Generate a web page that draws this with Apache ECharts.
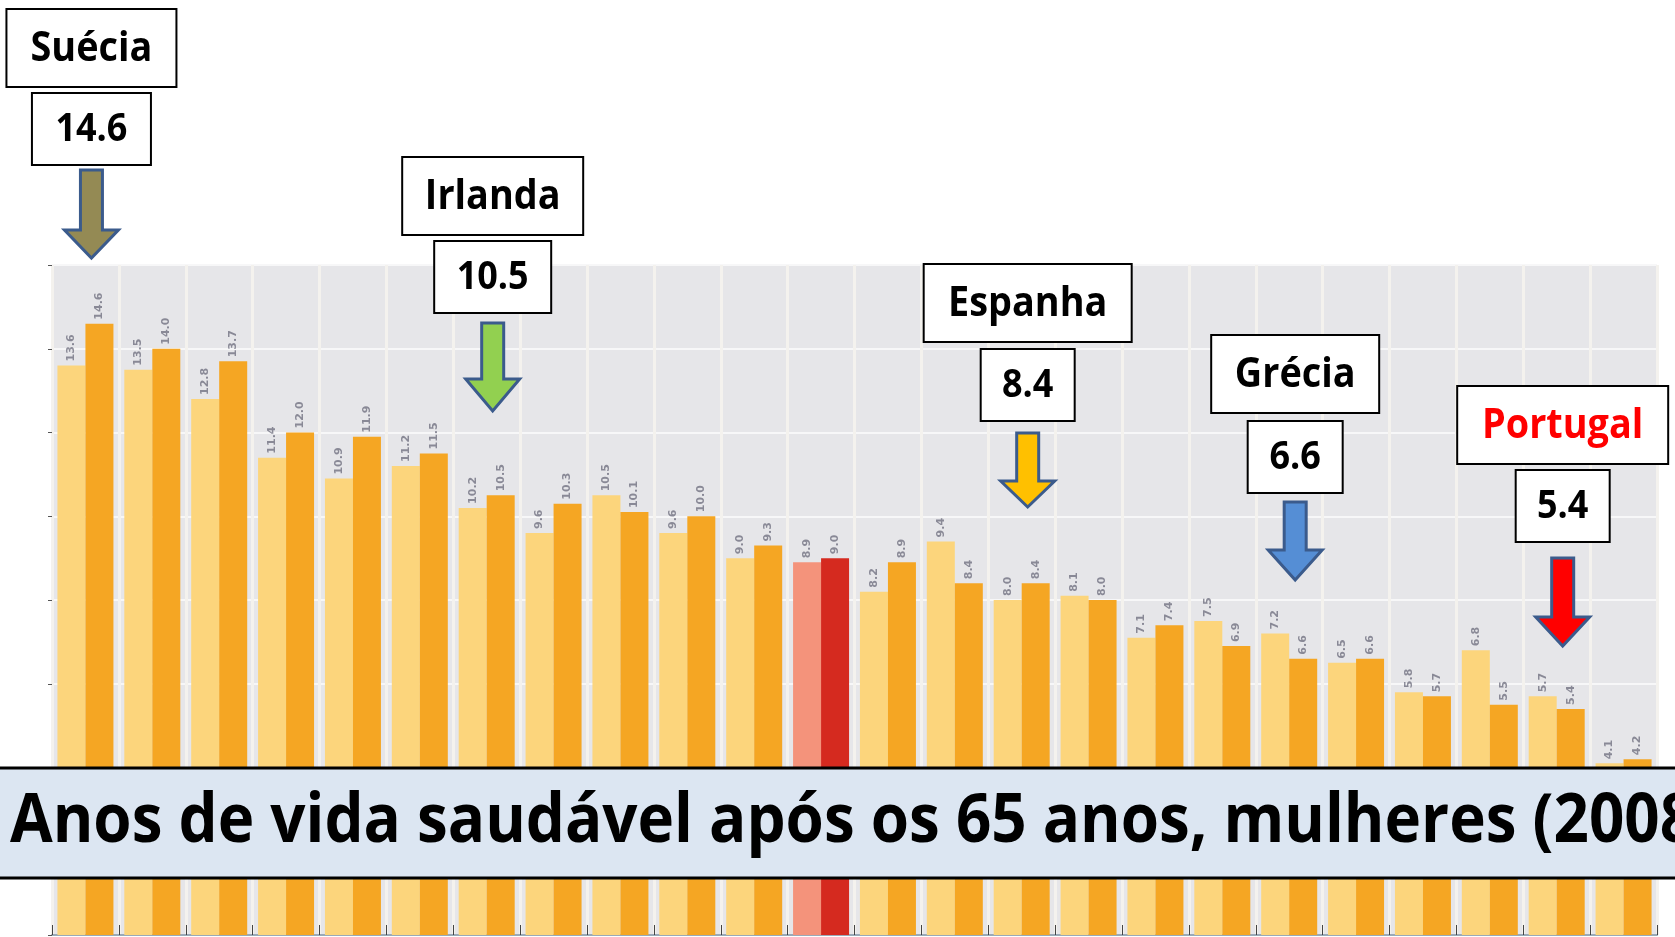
<!DOCTYPE html>
<html>
<head>
<meta charset="utf-8">
<script src="https://cdn.jsdelivr.net/npm/echarts@6/dist/echarts.min.js"></script>
<style>
  html, body { margin: 0; padding: 0; background: #fff; }
  #chart { width: 1675px; height: 937px; }
</style>
</head>
<body>
<div id="chart"></div>
<script>
// países (só alguns são identificados na imagem)
const countries = ['Suécia', 'P2', 'P3', 'P4', 'P5', 'P6', 'Irlanda', 'P8', 'P9', 'P10', 'P11', 'UE',
  'P13', 'P14', 'Espanha', 'P16', 'P17', 'P18', 'Grécia', 'P20', 'P21', 'P22', 'Portugal', 'P24'];
// anos de vida saudável após os 65, mulheres
const serieA = [13.6, 13.5, 12.8, 11.4, 10.9, 11.2, 10.2, 9.6, 10.5, 9.6, 9.0, 8.9,
  8.2, 9.4, 8.0, 8.1, 7.1, 7.5, 7.2, 6.5, 5.8, 6.8, 5.7, 4.1];
const serieB = [14.6, 14.0, 13.7, 12.0, 11.9, 11.5, 10.5, 10.3, 10.1, 10.0, 9.3, 9.0,
  8.9, 8.4, 8.4, 8.0, 7.4, 6.9, 6.6, 6.6, 5.7, 5.5, 5.4, 4.2];
const yTicks = [0, 16, 2];
const highlight = 'UE';
const callouts = ['Suécia', 'Irlanda', 'Espanha', 'Grécia', 'Portugal'];
const title = 'Anos de vida saudável após os 65 anos, mulheres (2008)';

// caixas e setas (posições do diapositivo)
const boxLayout = [
  { w: 170, top: 9,   vw: 119, vtop: 93,  a0: 170, a1: 230, a2: 258, fill: '#948A54', nameColor: '#000' },
  { w: 181, top: 157, vw: 117, vtop: 241, a0: 323, a1: 379, a2: 411, fill: '#92D050', nameColor: '#000' },
  { w: 208, top: 264, vw: 94,  vtop: 349, a0: 433, a1: 481, a2: 507, fill: '#FFC000', nameColor: '#000' },
  { w: 168, top: 335, vw: 95,  vtop: 421, a0: 502, a1: 550, a2: 580, fill: '#558ED5', nameColor: '#000' },
  { w: 211, top: 386, vw: 94,  vtop: 470, a0: 558, a1: 617, a2: 646, fill: '#FF0000', nameColor: '#FF0000' }
];

const chart = echarts.init(document.getElementById('chart'));

const colA = '#FCD57C', colB = '#F5A623';
const colAhi = '#F4937B', colBhi = '#D52A1F';

function items(values, normal, hi) {
  return values.map((v, i) => countries[i] === highlight
    ? { value: v, itemStyle: { color: hi } }
    : { value: v, itemStyle: { color: normal } });
}

const labelStyle = {
  show: true,
  position: 'top',
  rotate: 90,
  align: 'left',
  verticalAlign: 'middle',
  distance: 4,
  fontSize: 11,
  fontWeight: 'bold',
  fontFamily: 'DejaVu Sans',
  color: 'rgba(75,75,95,0.6)',
  formatter: p => p.value.toFixed(1)
};

chart.setOption({
  animation: false,
  backgroundColor: '#ffffff',
  grid: {
    left: 52, right: 18, top: 265, bottom: 2,
    show: true, backgroundColor: '#E6E6E9', borderWidth: 0
  },
  xAxis: {
    type: 'category',
    data: countries,
    axisLine: { lineStyle: { color: '#9AAAB8', width: 2 } },
    axisTick: { show: true, inside: true, length: 10, lineStyle: { color: '#444' } },
    axisLabel: { show: false },
    splitLine: { show: true, lineStyle: { color: '#F4F2EE', width: 3 } }
  },
  yAxis: {
    type: 'value',
    min: yTicks[0], max: yTicks[1], interval: yTicks[2],
    axisLine: { show: false },
    axisTick: { show: true, length: 4, lineStyle: { color: '#555' } },
    axisLabel: { show: false },
    splitLine: { lineStyle: { color: '#F7F7F8', width: 2 } }
  },
  series: [
    { name: 'A', type: 'bar', data: items(serieA, colA, colAhi), barWidth: 28, barGap: '0%', label: labelStyle },
    { name: 'B', type: 'bar', data: items(serieB, colB, colBhi), barWidth: 28, barGap: '0%', label: labelStyle }
  ]
});

const graphic = [];
callouts.forEach((name, k) => {
  const L = boxLayout[k];
  const idx = countries.indexOf(name);
  const cx = chart.convertToPixel({ xAxisIndex: 0 }, name) + 6;
  const val = serieB[idx].toFixed(1);
  graphic.push({
    type: 'rect', z: 100,
    shape: { x: cx - L.w / 2, y: L.top, width: L.w, height: 78 },
    style: { fill: '#fff', stroke: '#000', lineWidth: 2 }
  });
  graphic.push({
    type: 'text', z: 101, x: cx, y: L.top + 40, scaleX: 0.9,
    style: { text: name, x: 0, y: 0, align: 'center', verticalAlign: 'middle',
      font: 'bold 42px "Open Sans"', fill: L.nameColor }
  });
  graphic.push({
    type: 'rect', z: 100,
    shape: { x: cx - L.vw / 2, y: L.vtop, width: L.vw, height: 72 },
    style: { fill: '#fff', stroke: '#000', lineWidth: 2 }
  });
  graphic.push({
    type: 'text', z: 101, x: cx, y: L.vtop + 37, scaleX: 0.9,
    style: { text: val, x: 0, y: 0, align: 'center', verticalAlign: 'middle',
      font: 'bold 40px "Open Sans"', fill: '#000' }
  });
  const sw = 11, hw = 27;
  graphic.push({
    type: 'polygon', z: 100,
    shape: { points: [[cx - sw, L.a0], [cx + sw, L.a0], [cx + sw, L.a1], [cx + hw, L.a1],
      [cx, L.a2], [cx - hw, L.a1], [cx - sw, L.a1]] },
    style: { fill: L.fill, stroke: '#3B5B8C', lineWidth: 3, lineJoin: 'miter' }
  });
});

graphic.push({
  type: 'rect', z: 100,
  shape: { x: -3, y: 768, width: 1685, height: 110 },
  style: { fill: '#DCE6F2', stroke: '#000', lineWidth: 3 }
});
graphic.push({
  type: 'text', z: 101, x: 10, y: 823, scaleX: 0.91,
  style: { text: title, x: 0, y: 0, align: 'left', verticalAlign: 'middle',
    font: 'bold 68px "Open Sans"', fill: '#000' }
});

chart.setOption({ graphic: graphic });
</script>
</body>
</html>
